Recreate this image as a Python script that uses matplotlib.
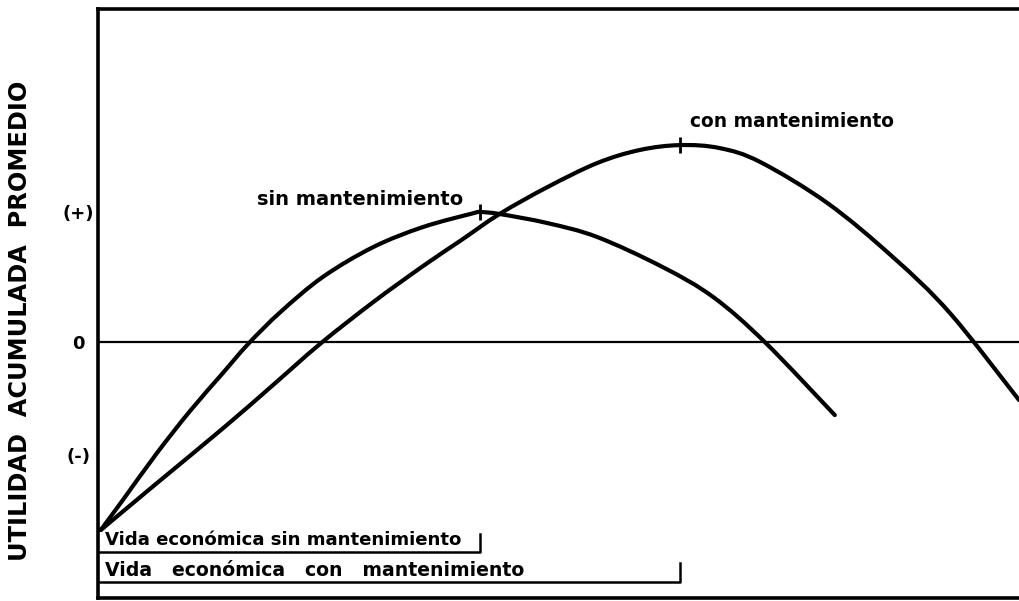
import matplotlib
matplotlib.use("Agg")
import matplotlib.pyplot as plt
from matplotlib.path import Path
from matplotlib.patches import PathPatch
import numpy as np

# ---- data ----
sin_x = [0.03, 0.27, 0.64, 1.00, 1.36, 1.63, 1.98, 2.44, 2.99, 3.53, 4.07, 4.15, 4.36,
         4.88, 5.42, 6.13, 6.68, 7.24, 8.00]
sin_y = [-1.446, -1.215, -0.854, -0.530, -0.235, -0.015, 0.230, 0.500, 0.731, 0.885, 0.990,
         1.000, 0.985, 0.915, 0.808, 0.577, 0.346, 0.0, -0.562]

con_x = [0.03, 0.64, 1.36, 1.90, 2.41, 2.99, 3.53, 3.93, 4.36, 4.88, 5.42, 5.88, 6.32,
         6.75, 7.19, 7.92, 8.63, 9.25, 10.0]
con_y = [-1.446, -1.085, -0.662, -0.331, -0.015, 0.308, 0.585, 0.777, 0.985, 1.192, 1.377,
         1.477, 1.515, 1.492, 1.385, 1.069, 0.654, 0.223, -0.446]

sin_peak = (4.15, 1.000)
con_peak = (6.32, 1.515)

ytick_vals = [-0.869, 0.0, 1.0]
ytick_labels = ["(-)", "0", "(+)"]

label_sin = "sin mantenimiento"
label_con = "con mantenimiento"
life_sin = "Vida económica sin mantenimiento"
life_con = "Vida   económica   con   mantenimiento"
ylabel = "UTILIDAD  ACUMULADA  PROMEDIO"

# ---- figure ----
W, H = 1019, 601
fig = plt.figure(figsize=(W / 100, H / 100), dpi=100)
ax = fig.add_axes([98 / W, 3 / H, 921 / W, 589 / H])
ax.set_xlim(0, 10.0)
ax.set_ylim(-1.969, 2.562)

bold = dict(family="DejaVu Sans", weight="bold", color="black")


def smooth_path(xs, ys):
    """Catmull-Rom through the read points, expressed as cubic Bezier segments."""
    p = np.column_stack([xs, ys]).astype(float)
    n = len(p)
    verts = [p[0]]
    codes = [Path.MOVETO]
    for i in range(n - 1):
        p0 = p[i - 1] if i > 0 else p[i]
        p1, p2 = p[i], p[i + 1]
        p3 = p[i + 2] if i + 2 < n else p[i + 1]
        c1 = p1 + (p2 - p0) / 6.0
        c2 = p2 - (p3 - p1) / 6.0
        verts += [c1, c2, p2]
        codes += [Path.CURVE4] * 3
    return Path(verts, codes)


for xs, ys in [(sin_x, sin_y), (con_x, con_y)]:
    ax.add_patch(PathPatch(smooth_path(xs, ys), facecolor="none", edgecolor="black",
                           lw=3.0, capstyle="round", joinstyle="round"))
ax.axhline(0, color="black", lw=1.6)

# peak marks
ax.plot([sin_peak[0]], [sin_peak[1]], marker="|", ms=12, mew=2, color="black")
ax.plot([con_peak[0]], [con_peak[1]], marker="|", ms=12, mew=2, color="black")

# curve labels
ax.text(1.73, 1.10, label_sin, fontsize=14, ha="left", va="center", **bold)
ax.text(6.43, 1.70, label_con, fontsize=13.4, ha="left", va="center", **bold)

# economic life brackets
y1, y2 = -1.615, -1.846
ax.plot([0, sin_peak[0], sin_peak[0]], [y1, y1, y1 + 0.14], color="black", lw=1.8)
ax.plot([0, con_peak[0], con_peak[0]], [y2, y2, y2 + 0.15], color="black", lw=1.8)
ax.text(0.08, -1.525, life_sin, fontsize=13.1, ha="left", va="center", **bold)
ax.text(0.08, -1.755, life_con, fontsize=13.6, ha="left", va="center", **bold)

# axes styling
for s in ["left", "top", "bottom"]:
    ax.spines[s].set_linewidth(2.6)
ax.spines["right"].set_visible(False)
ax.set_xticks([])
ax.set_yticks(ytick_vals)
ax.set_yticklabels(ytick_labels, fontsize=13, fontweight="bold")
ax.tick_params(axis="y", length=0, pad=14)
for t in ax.get_yticklabels():
    t.set_horizontalalignment("center")

ax.set_ylabel(ylabel, fontsize=17.3, fontweight="bold")
ax.yaxis.set_label_coords(-0.085, 0.47)
ax.yaxis.label.set_va("center")

fig.savefig("out.png", dpi=100, facecolor="white")
